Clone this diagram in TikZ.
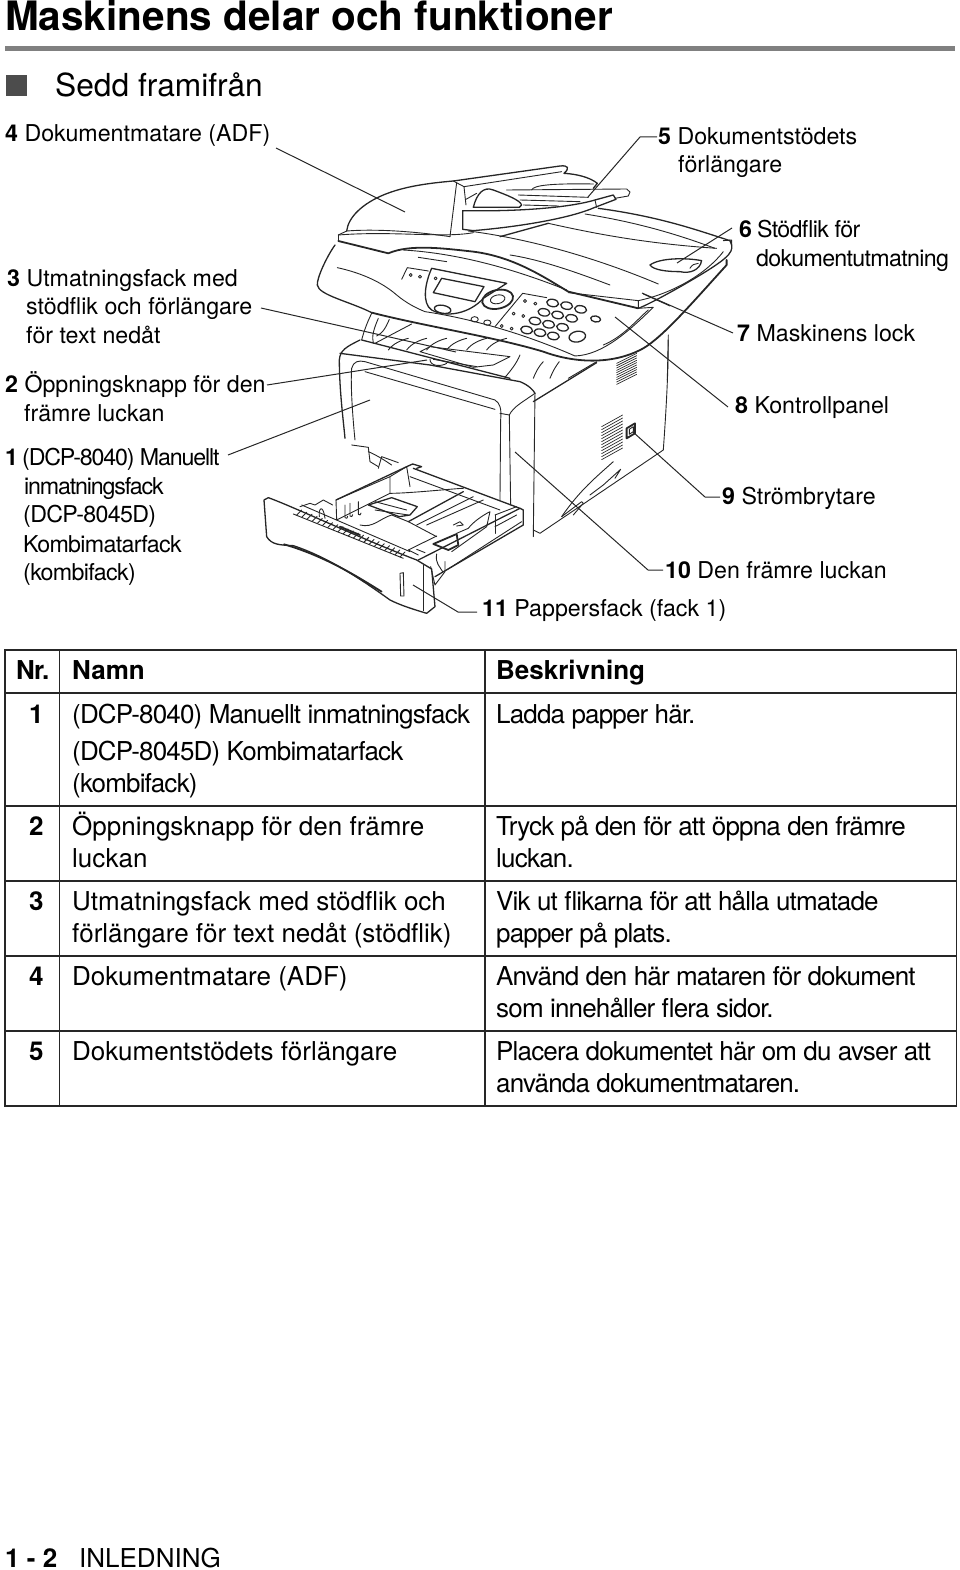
\documentclass[tikz,border=0pt]{standalone}
\usepackage{fontspec}
\setmainfont{TeX Gyre Heros}
\newfontfamily\tightfont[LetterSpace=-3.2]{TeX Gyre Heros}
\newfontfamily\lblfontA[LetterSpace=-2.9]{TeX Gyre Heros}
\newfontfamily\lblfontB[LetterSpace=-5]{TeX Gyre Heros}
\tikzset{
  lbl/.style={anchor=base west, inner sep=0pt, font=\fontsize{23.2}{28}\selectfont},
  lbltight/.style={anchor=base west, inner sep=0pt, font=\fontsize{23.2}{28}\lblfontA},
  lblsqueeze/.style={anchor=base west, inner sep=0pt, font=\fontsize{23.2}{28}\lblfontB},
  cell/.style={anchor=base west, inner sep=0pt, font=\fontsize{26}{32}\selectfont},
  celltight/.style={anchor=base west, inner sep=0pt, font=\fontsize{26}{32}\tightfont},
  head/.style={cell, font=\fontsize{26}{32}\selectfont\bfseries},
  leader/.style={draw=black!85, line width=1pt},
  ink/.style={draw=black!85, line width=0.9pt, line join=round, line cap=round},
  medium/.style={ink, line width=1.3pt},
  heavy/.style={ink, line width=1.8pt},
  frame/.style={draw=black!85, line width=1.6pt},
  crop/.style 2 args={shift={(#1,#2)}, x=0.3333pt, y=-0.3333pt},
}
\begin{document}
\begin{tikzpicture}[x=1pt, y=-1pt]
  \useasboundingbox (0,0) rectangle (960,1570);

  % Heading
  \node[anchor=base west, inner sep=0pt, font=\fontsize{40.5}{44}\selectfont\bfseries] (title) at (5,31) {Maskinens delar och funktioner};
  \fill[black!50] (5,46) rectangle (955,51);
  \fill[black!70] (6,75) rectangle (27,96);
  \node[anchor=base west, inner sep=0pt, font=\fontsize{31.7}{36}\selectfont] (sub) at (55,97) {Sedd framifrån};

  % Labels on the left
  \node[lbl] (l4) at (5,142) {\textbf{4} Dokumentmatare (ADF)};
  \node[lbl] (l3) at (7,286) {\textbf{3} Utmatningsfack med};
  \node[lbl] (l3b) at (26,314) {stödflik och förlängare};
  \node[lbl] (l3c) at (26,343) {för text nedåt};
  \node[lbl] (l2) at (5,392) {\textbf{2} Öppningsknapp för den};
  \node[lbl] (l2b) at (24,421) {främre luckan};
  \node[lblsqueeze] (l1) at (5,465) {\textbf{1} (DCP-8040) Manuellt};
  \node[lblsqueeze] (l1b) at (24,494) {inmatningsfack};
  \node[lbltight] (l1c) at (23,522) {(DCP-8045D)};
  \node[lbltight] (l1d) at (23,552) {Kombimatarfack};
  \node[lbltight] (l1e) at (23,580) {(kombifack)};

  % Labels on the right
  \node[lbl] (l5) at (658,145) {\textbf{5} Dokumentstödets};
  \node[lbl] (l5b) at (678,173) {förlängare};
  \node[lbltight] (l6) at (739,237) {\textbf{6} Stödflik för};
  \node[lbltight] (l6b) at (756,266) {dokumentutmatning};
  \node[lbl] (l7) at (737,341) {\textbf{7} Maskinens lock};
  \node[lbl] (l8) at (735,413) {\textbf{8} Kontrollpanel};
  \node[lbl] (l9) at (722,504) {\textbf{9} Strömbrytare};
  \node[lbl] (l10) at (665,578) {\textbf{10} Den främre luckan};
  \node[lbl] (l11) at (482,616) {\textbf{11} Pappersfack (fack 1)};

  % Upper part of the machine
  \begin{scope}[crop={310}{170}]
    % document feeder
    \draw[medium] (110,183) .. controls (115,140) and (160,100) .. (220,75) .. controls (280,50) and (350,40) .. (430,33) -- (750,-12) .. controls (775,-15) and (780,-5) .. (762,10) .. controls (800,12) and (840,22) .. (862,40) -- (850,55);
    \draw[ink] (430,33) -- (462,50) -- (468,105);
    \draw[ink] (440,38) -- (420,200);
    \draw[ink] (462,50) -- (755,5);
    \draw[ink] (468,88) -- (500,70);
    \draw[ink] (665,60) .. controls (670,45) and (730,40) .. (850,42);
    \draw[ink] (110,183) .. controls (200,176) and (320,185) .. (420,200);
    % tray of the feeder
    \draw[medium] (458,122) .. controls (610,125) and (770,115) .. (855,90) -- (910,75) -- (918,88) -- (855,112) .. controls (780,145) and (630,170) .. (490,182) -- (458,178) -- cycle;
    \draw[ink] (590,60) -- (950,57) -- (960,66) -- (955,78) -- (915,85);
    \draw[medium] (490,112) .. controls (500,72) and (520,48) .. (550,60) .. controls (590,75) and (630,90) .. (635,105) -- (628,112) -- cycle;
    \draw[ink] (625,75) -- (835,82);
    \draw[ink] (630,90) -- (810,95);
    \draw[ink] (640,105) -- (745,108);
    \draw[ink] (855,90) -- (860,112);
    % scanner lid
    \draw[ink] (85,195) -- (110,183);
    \draw[ink] (85,195) -- (85,213);
    \draw[ink] (85,195) .. controls (250,182) and (400,205) .. (490,188);
    \draw[ink] (475,183) .. controls (650,205) and (850,260) .. (1045,342);
    \draw[medium] (570,200) -- (715,160);
    \draw[ink] (715,160) .. controls (850,190) and (1000,220) .. (1220,235);
    \draw[ink] (825,132) .. controls (1000,160) and (1120,200) .. (1215,235);
    \draw[medium] (865,115) .. controls (1050,140) and (1160,180) .. (1260,212) -- (1265,225) .. controls (1270,250) and (1250,270) .. (1120,345) .. controls (1050,385) and (1000,410) .. (985,415);
    \draw[ink] (1240,212) -- (1265,210) -- (1265,225);
    \draw[heavy] (85,213) -- (235,250) .. controls (300,222) and (400,235) .. (490,245) .. controls (610,260) and (700,320) .. (775,365) -- (985,415);
    \draw[ink] (775,368) -- (985,392) -- (985,415);
    \draw[ink] (985,392) .. controls (1090,370) and (1190,310) .. (1240,245);
    \draw[ink] (1000,372) -- (1080,408);
    \draw[ink] (280,240) .. controls (450,250) and (620,300) .. (770,360);
    \draw[ink] (600,255) .. controls (700,270) and (820,315) .. (900,345);
    \draw[ink] (325,262) -- (410,275);
    % slot with the flap
    \draw[medium] (1020,285) .. controls (1050,263) and (1130,263) .. (1175,272) .. controls (1170,300) and (1140,312) .. (1110,305) .. controls (1070,305) and (1030,300) .. (1020,285) -- cycle;
    \draw[ink] (1140,295) .. controls (1145,285) and (1155,280) .. (1165,280);
    % panel body
    \draw[medium] (75,225) .. controls (50,260) and (20,325) .. (22,345) .. controls (25,375) and (120,395) .. (185,428);
    \draw[heavy] (185,428) .. controls (350,470) and (550,500) .. (700,545) .. controls (780,575) and (900,590) .. (1000,535) .. controls (1060,500) and (1150,395) .. (1250,285) -- (1250,270);
    \draw[ink] (82,293) .. controls (160,310) and (220,340) .. (260,375) .. controls (290,400) and (320,415) .. (345,425) .. controls (480,445) and (640,490) .. (795,558) .. controls (880,555) and (960,480) .. (1030,412) -- (985,415);
    \draw[ink] (1015,420) .. controls (980,450) and (940,500) .. (880,525);
    % control panel
    \draw[medium] (365,295) .. controls (345,340) and (335,400) .. (365,420) .. controls (410,445) and (480,430) .. (520,385) -- (590,340) -- cycle;
    \draw[medium] (395,325) -- (522,350) -- (495,395) -- (370,368) -- cycle;
    \draw[ink] (275,328) -- (292,293) -- (355,303);
    \draw[ink] (555,470) -- (638,370) -- (710,383);
    \draw[medium] (398,418) circle [x radius=25, y radius=12, rotate=-10];
    \draw[heavy] (563,388) circle [x radius=47, y radius=28, rotate=12];
    \draw[ink] (563,388) circle [x radius=22, y radius=13, rotate=12];
    \foreach \kx/\ky in {728/399, 770/407, 812/418, 702/427, 743/435, 785/445, 675/453, 716/463, 758/472, 650/480, 690/488, 730/498}
      \draw[medium] (\kx,\ky) circle [x radius=18, y radius=11, rotate=-10];
    \draw[medium] (802,500) circle [x radius=25, y radius=16, rotate=10];
    \draw[medium] (857,447) circle [x radius=15, y radius=9, rotate=-10];
    \draw[ink] (494,448) circle [x radius=11, y radius=8];
    \draw[ink] (532,458) circle [x radius=11, y radius=8];
    \foreach \kx/\ky in {645/393, 676/401, 611/431, 640/438, 575/468, 605/476, 302/315, 330/320, 377/325}
      \draw[ink] (\kx,\ky) circle [radius=4.5];
    % paper exit under the panel
    \draw[ink] (185,430) .. controls (170,460) and (160,490) .. (155,510);
    \draw[ink] (205,445) .. controls (190,480) and (185,500) .. (190,520);
    \draw[ink] (238,448) .. controls (225,480) and (215,490) .. (200,498);
    \draw[ink] (305,462) -- (195,520);
    \draw[medium] (155,510) -- (600,625);
    \draw[ink] (630,555) .. controls (620,580) and (600,605) .. (585,622);
    \draw[ink] (330,545) -- (360,530) -- (600,560) -- (550,585) -- (490,592) -- cycle;
    \draw[ink] (370,568) -- (500,590);
    \foreach \fx in {235,290,350,410,470,530}
      \draw[ink] (\fx,540) .. controls (\fx+15,520) and (\fx+40,510) .. (\fx+60,505);
    \draw[ink] (670,625) .. controls (680,600) and (690,585) .. (700,575);
    \draw[ink] (720,625) .. controls (730,600) and (740,585) .. (748,575);
    \draw[ink] (775,625) -- (860,575);
    \draw[ink] (1075,495) -- (1072,630);
  \end{scope}

  % Lower part of the machine
  \begin{scope}[crop={250}{340}]
    % front door
    \draw[medium] (330,0) .. controls (290,20) and (270,30) .. (268,60) .. controls (268,150) and (280,240) .. (285,295);
    \draw[medium] (270,40) -- (540,75) -- (810,125) .. controls (835,135) and (850,150) .. (855,160);
    \draw[ink] (315,300) .. controls (305,200) and (302,120) .. (305,85) .. controls (310,65) and (325,60) .. (345,65) -- (735,180) .. controls (750,190) and (755,205) .. (752,240) -- (750,480);
    \draw[ink] (345,95) -- (735,208);
    \draw[ink] (855,160) .. controls (820,185) and (790,200) .. (778,225) -- (782,495);
    \draw[ink] (750,220) -- (778,225);
    \draw[ink] (540,58) .. controls (540,80) and (575,80) .. (590,70);
    % side of the machine
    \draw[medium] (850,185) -- (1040,68);
    \draw[ink] (855,160) -- (850,590);
    \draw[ink] (850,570) -- (870,580) -- (1240,330) .. controls (1248,220) and (1255,100) .. (1255,0);
    \foreach \vn in {0,1,...,11}
      \draw[ink, line width=0.7pt] (1055,260+\vn*9) -- (1118,225+\vn*9);
    \foreach \vn in {0,1,...,9}
      \draw[ink, line width=0.7pt] (1100,70+\vn*7) -- (1160,40+\vn*7);
    \draw[heavy] (1130,265) -- (1155,250) -- (1155,280) -- (1130,295) -- cycle;
    \draw[ink] (1138,268) -- (1150,260) -- (1150,275) -- (1138,283) -- cycle;
    \draw[ink] (935,530) .. controls (990,450) and (1040,410) .. (1090,365);
    \draw[ink] (935,530) -- (995,485) -- (1000,490) -- (970,525);
    \draw[ink] (1020,465) -- (1060,435) -- (1112,388) -- (1095,415);
    % below the door
    \draw[ink] (305,315) -- (355,322) -- (360,365) -- (385,380);
    \draw[ink] (355,335) .. controls (380,345) and (410,365) .. (425,375);
    \draw[ink] (385,385) -- (395,350) -- (445,368);
  \end{scope}

  % Paper tray
  \begin{scope}[crop={260}{450}]
    % front of the tray
    \draw[medium] (12,150) -- (25,143) .. controls (100,170) and (300,265) .. (470,330) -- (515,357) -- (525,470) -- (500,490) .. controls (450,475) and (420,465) .. (390,450) .. controls (300,385) and (200,320) .. (100,287) .. controls (60,285) and (35,285) .. (20,260) -- cycle;
    \draw[ink] (490,345) -- (490,482);
    \draw[heavy] (72,283) .. controls (200,320) and (300,385) .. (365,425);
    \draw[ink] (420,370) -- (430,368) -- (432,438) -- (422,438) -- cycle;
    % comb along the edge
    \draw[ink] (100,192) -- (430,325);
    \draw[ink] (125,165) -- (450,305);
    \foreach \tn in {0,1,...,20}
      \draw[ink] (110+\tn*15.5,195+\tn*6.3) -- (125+\tn*15.5,180+\tn*6.3);
    \draw[heavy] (240,230) -- (300,255);
    % rear of the tray
    \draw[ink] (120,170) -- (150,160) -- (165,165) -- (190,150) -- (218,165);
    \draw[ink] (178,200) .. controls (175,170) and (190,165) .. (195,205);
    \draw[medium] (228,150) -- (440,50) -- (458,42) -- (485,50) -- (470,55);
    \draw[ink] (228,150) -- (230,210) -- (390,130) -- (390,80) -- (228,150);
    \draw[ink] (390,80) -- (440,50) -- (450,110);
    \foreach \gx/\gy in {255/165, 270/160, 295/155}
      \draw[ink] (\gx,\gy) -- (\gx,\gy+38) .. controls (\gx+4,\gy+42) and (\gx+8,\gy+40) .. (\gx+8,\gy+34);
    \draw[medium] (460,55) -- (780,175);
    \draw[ink] (450,80) -- (720,180);
    \draw[ink] (390,130) .. controls (450,130) and (590,115) .. (610,115);
    \draw[medium] (325,165) -- (395,143) -- (472,170) -- (450,195) -- (418,200) -- cycle;
    \draw[ink] (345,155) -- (440,180);
    \draw[ink] (345,180) -- (445,195);
    \draw[medium] (445,215) -- (610,125);
    \draw[ink] (470,225) -- (640,140);
    \draw[ink] (500,225) -- (670,150);
    \draw[ink] (300,225) .. controls (340,235) and (360,205) .. (395,195) -- (445,215) -- (530,260);
    \draw[ink] (580,225) -- (600,215) -- (610,225) -- (590,228);
    \draw[ink] (445,300) -- (530,258);
    \draw[ink] (445,300) -- (475,315);
    \draw[ink] (470,298) -- (495,308);
    % side guide and rail
    \draw[heavy] (520,282) -- (590,252) -- (595,285) -- (565,300) -- cycle;
    \draw[ink] (590,250) -- (625,235) .. controls (640,215) and (670,195) .. (690,185) -- (680,230) -- (610,280) -- (575,305);
    \draw[medium] (475,330) -- (780,175) -- (790,180) -- (790,225) -- (525,380);
    \draw[ink] (560,360) -- (785,215);
    \draw[ink] (705,195) -- (770,170);
    \draw[ink] (705,230) -- (770,195);
    \draw[ink] (705,195) -- (705,250);
    \draw[ink] (512,350) -- (525,405) -- (555,365) -- (555,335);
    \draw[ink] (530,312) .. controls (525,340) and (540,350) .. (548,365);
  \end{scope}

  % Leader lines
  \coordinate (t4) at (405,212);
  \coordinate (t3) at (456,352);
  \coordinate (t2) at (427,360);
  \coordinate (t1) at (370,400);
  \coordinate (t5) at (588,197);
  \coordinate (t6) at (677,263);
  \coordinate (t7) at (642,293);
  \coordinate (t8) at (615,317);
  \coordinate (t9) at (633,432);
  \coordinate (t10) at (515,452);
  \coordinate (t11) at (413,585);
  \draw[leader] (276,148) -- (t4);
  \draw[leader] (261,308) -- (t3);
  \draw[leader] (267,385) -- (t2);
  \draw[leader] (228,455) -- (t1);
  \draw[leader] (l5.base west)+(-1,-8) -- ++(-18,-8) -- (t5);
  \draw[leader] (732,228) -- (t6);
  \draw[leader] (733,333) -- (t7);
  \draw[leader] (728,407) -- (t8);
  \draw[leader] (l9.base west)+(-2,-7) -- ++(-17,-7) -- (t9);
  \draw[leader] (l10.base west)+(-2,-8) -- ++(-17,-8) -- (t10);
  \draw[leader] (l11.base west)+(-5,-4) -- ++(-24,-4) -- (t11);

  % Table
  \draw[frame] (5,650) rectangle (956.5,1106);
  \foreach \ry in {693,806,881,956,1031}
    \draw[frame] (5,\ry) -- (956.5,\ry);
  \draw[frame] (59.5,650) -- (59.5,1106);
  \draw[frame] (485,650) -- (485,1106);

  \node[head, font=\fontsize{26}{32}\tightfont\bfseries] (h1) at (16,679) {Nr.};
  \node[head] (h2) at (72,679) {Namn};
  \node[head] (h3) at (496,679) {Beskrivning};

  \node[head] (n1) at (29,723) {1};
  \node[celltight] (a1) at (72,723) {(DCP-8040) Manuellt inmatningsfack};
  \node[celltight] (a1b) at (72,760) {(DCP-8045D) Kombimatarfack};
  \node[celltight] (a1c) at (72,792) {(kombifack)};
  \node[celltight] (b1) at (496,723) {Ladda papper här.};

  \node[head] (n2) at (29,835) {2};
  \node[cell] (a2) at (72,835) {Öppningsknapp för den främre};
  \node[cell] (a2b) at (72,867) {luckan};
  \node[celltight] (b2) at (496,835) {Tryck på den för att öppna den främre};
  \node[celltight] (b2b) at (496,867) {luckan.};

  \node[head] (n3) at (29,910) {3};
  \node[cell] (a3) at (72,910) {Utmatningsfack med stödflik och};
  \node[cell] (a3b) at (72,942) {förlängare för text nedåt (stödflik)};
  \node[celltight] (b3) at (496,910) {Vik ut flikarna för att hålla utmatade};
  \node[celltight] (b3b) at (496,942) {papper på plats.};

  \node[head] (n4) at (29,985) {4};
  \node[cell] (a4) at (72,985) {Dokumentmatare (ADF)};
  \node[celltight] (b4) at (496,985) {Använd den här mataren för dokument};
  \node[celltight] (b4b) at (496,1017) {som innehåller flera sidor.};

  \node[head] (n5) at (29,1060) {5};
  \node[cell] (a5) at (72,1060) {Dokumentstödets förlängare};
  \node[celltight] (b5) at (496,1060) {Placera dokumentet här om du avser att};
  \node[celltight] (b5b) at (496,1092) {använda dokumentmataren.};

  % Page footer
  \node[head] (foot1) at (5,1567) {1 - 2};
  \node[cell] (foot2) at (79,1567) {INLEDNING};
\end{tikzpicture}
\end{document}
